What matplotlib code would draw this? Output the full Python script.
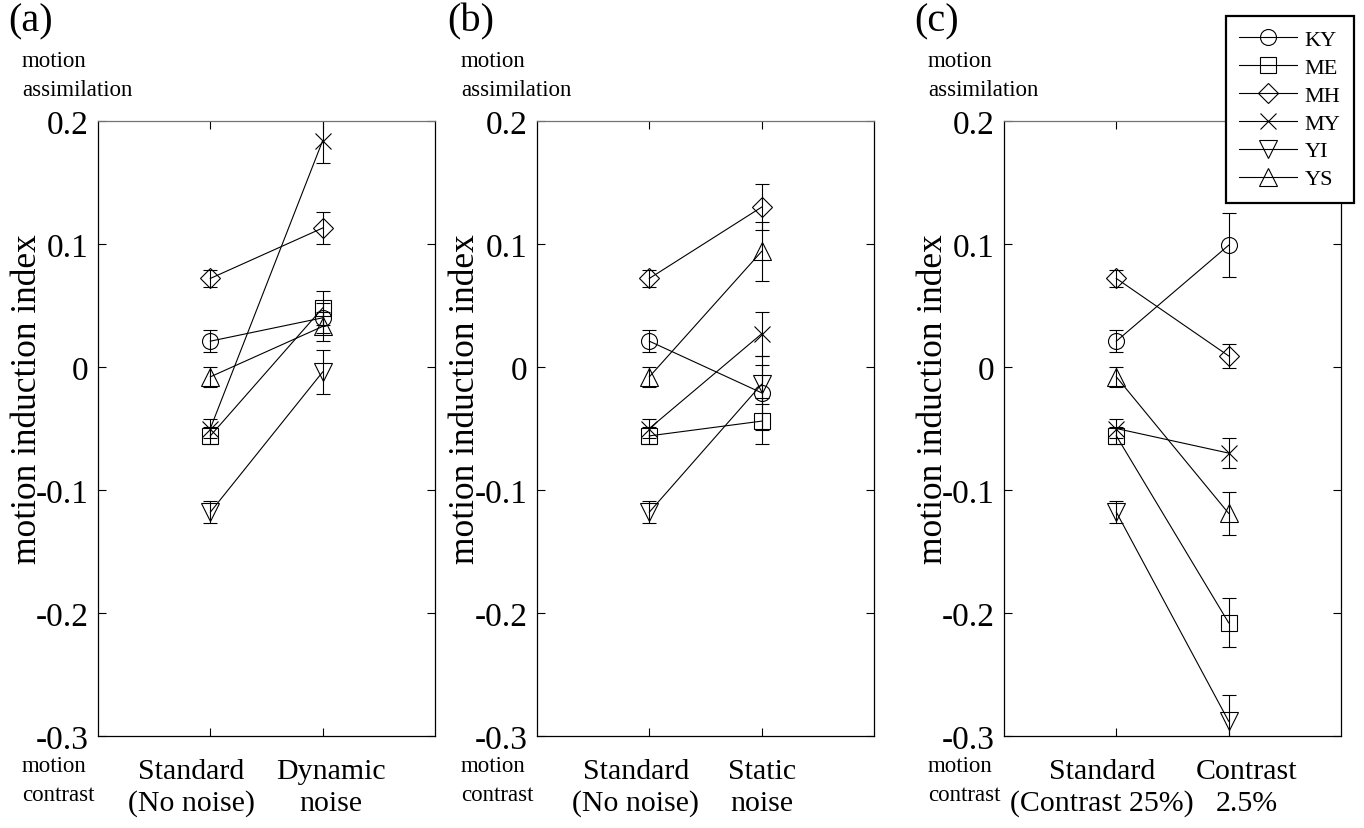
import matplotlib
matplotlib.use("Agg")
import matplotlib.pyplot as plt
from matplotlib.transforms import blended_transform_factory

plt.rcParams["font.family"] = ["Liberation Serif", "DejaVu Serif"]
plt.rcParams["axes.unicode_minus"] = False

# subjects and their markers
subjects = ["KY", "ME", "MH", "MY", "YI", "YS"]
markers = ["o", "s", "D", "x", "v", "^"]
marker_sizes = [11.5, 11.5, 10.5, 12, 13, 13]

# standard condition (same for all three panels)
standard = [0.021, -0.056, 0.072, -0.050, -0.118, -0.008]
standard_err = [0.009, 0.007, 0.007, 0.008, 0.009, 0.008]

# (a) dynamic noise
dynamic = [0.040, 0.048, 0.113, 0.184, -0.004, 0.033]
dynamic_err = [0.012, 0.014, 0.013, 0.018, 0.018, 0.012]

# (b) static noise
static = [-0.021, -0.044, 0.130, 0.027, -0.014, 0.094]
static_err = [0.030, 0.019, 0.019, 0.018, 0.016, 0.024]

# (c) low contrast
contrast = [0.099, -0.208, 0.009, -0.070, -0.288, -0.119]
contrast_err = [0.026, 0.020, 0.010, 0.012, 0.021, 0.0175]

yticks = [0.2, 0.1, 0, -0.1, -0.2, -0.3]
ytick_labels = ["0.2", "0.1", "0", "-0.1", "-0.2", "-0.3"]

panel_names = ["(a)", "(b)", "(c)"]
cond_labels = [
    ["Standard\n(No noise)", "Dynamic\nnoise"],
    ["Standard\n(No noise)", "Static\nnoise"],
    ["Standard\n(Contrast 25%)", "Contrast\n2.5%"],
]
cond_values = [dynamic, static, contrast]
cond_errors = [dynamic_err, static_err, contrast_err]

W, H = 1364, 829
fig = plt.figure(figsize=(W / 100, H / 100), dpi=100)

ax_left = [98, 537, 1004]  # pixels
ax_w, ax_top, ax_bot = 337, 122, 737
# where the condition names sit along x (data units)
label_x = [[0.83, 2.07], [0.88, 2.0], [0.87, 2.16]]

for p in range(3):
    x0 = ax_left[p]
    ax = fig.add_axes([x0 / W, 1 - ax_bot / H, ax_w / W, (ax_bot - ax_top) / H])
    xs = [1, 2]
    for i, s in enumerate(subjects):
        vals = [standard[i], cond_values[p][i]]
        errs = [standard_err[i], cond_errors[p][i]]
        ax.errorbar(xs, vals, yerr=errs, fmt="none", ecolor="k",
                    elinewidth=0.8, capsize=5, capthick=0.8)
        ax.plot(xs, vals, color="k", lw=0.8, marker=markers[i],
                ms=marker_sizes[i], mfc="none", mec="k", mew=0.8, label=s)

    ax.set_xlim(0, 3)
    ax.set_ylim(-0.3, 0.2)
    ax.set_yticks(yticks)
    ax.set_yticklabels(ytick_labels, fontsize=24)
    ax.set_xticks(xs)
    ax.set_xticklabels([])
    ax.tick_params(direction="in", length=6, width=0.8, top=True, right=True)
    ax.tick_params(axis="y", pad=7)
    for sp in ax.spines.values():
        sp.set_linewidth(0.9)
    ax.spines["top"].set_color("0.45")

    trans = blended_transform_factory(ax.transData, ax.transAxes)
    for lx, name in zip(label_x[p], cond_labels[p]):
        ax.text(lx, (ax_bot - 788) / (ax_bot - ax_top), name, transform=trans,
                ha="center", va="center", fontsize=21.5, linespacing=1.28)

    ax.text(-71 / ax_w, 0.55, "motion induction index", transform=ax.transAxes,
            rotation=90, ha="center", va="center", fontsize=25.5)

    fig.text((x0 - 90) / W, 1 - 22 / H, panel_names[p], fontsize=29,
             ha="left", va="center")
    fig.text((x0 - 76) / W, 1 - 76 / H, "motion\nassimilation", fontsize=16.5,
             ha="left", va="center", linespacing=1.5)
    fig.text((x0 - 76) / W, 1 - 781 / H, "motion\ncontrast", fontsize=16.5,
             ha="left", va="center", linespacing=1.5)

    if p == 2:
        leg = ax.legend(loc="upper right", bbox_to_anchor=(1354 / W, 1 - 17 / H),
                        bbox_transform=fig.transFigure, fontsize=16,
                        handlelength=2.6, handletextpad=0.36, labelspacing=0.33,
                        borderpad=0.6, borderaxespad=0, fancybox=False,
                        framealpha=1, edgecolor="k")
        leg.get_frame().set_linewidth(1.6)

fig.savefig("out.png", dpi=100)
